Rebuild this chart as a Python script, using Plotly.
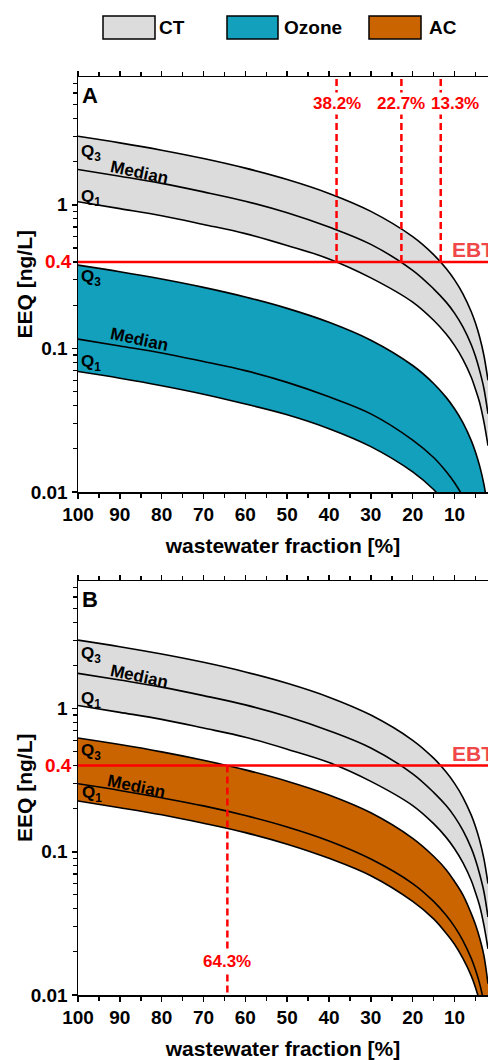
import plotly.graph_objects as go
import math

# ---------------- data ----------------
frac = [100, 90, 80, 70, 60, 50, 40, 30, 20, 15, 12, 10, 8, 6, 5, 4, 3, 2]

ct_q3 = [3.0, 2.7, 2.4, 2.1, 1.8, 1.5, 1.2, 0.9, 0.6, 0.45, 0.36, 0.30, 0.24, 0.18, 0.15, 0.12, 0.09, 0.06]
ct_med = [1.76, 1.58, 1.41, 1.23, 1.06, 0.88, 0.70, 0.53, 0.35, 0.26, 0.21, 0.176, 0.141, 0.106, 0.088, 0.070, 0.053, 0.035]
ct_q1 = [1.05, 0.94, 0.84, 0.73, 0.63, 0.52, 0.42, 0.31, 0.21, 0.157, 0.126, 0.105, 0.084, 0.063, 0.052, 0.042, 0.031, 0.021]

oz_q3 = [0.38, 0.342, 0.304, 0.266, 0.228, 0.19, 0.152, 0.114, 0.076, 0.057, 0.0456, 0.038, 0.0304, 0.0228, 0.019, 0.0152, 0.0114, 0.0076]
oz_med = [0.116, 0.104, 0.093, 0.081, 0.070, 0.058, 0.046, 0.035, 0.023, 0.0174, 0.0139, 0.0116, 0.0093, 0.0070, 0.0058, 0.0046, 0.0035, 0.0023]
oz_q1 = [0.069, 0.062, 0.055, 0.048, 0.041, 0.0345, 0.0276, 0.0207, 0.0138, 0.0104, 0.0083, 0.0069, 0.0055, 0.0041, 0.0035, 0.0028, 0.0021, 0.0014]

ac_q3 = [0.622, 0.56, 0.498, 0.435, 0.373, 0.311, 0.249, 0.187, 0.124, 0.093, 0.075, 0.062, 0.050, 0.037, 0.031, 0.025, 0.019, 0.012]
ac_med = [0.298, 0.268, 0.238, 0.209, 0.179, 0.149, 0.119, 0.089, 0.060, 0.045, 0.036, 0.030, 0.024, 0.018, 0.015, 0.012, 0.0089, 0.006]
ac_q1 = [0.226, 0.203, 0.181, 0.158, 0.136, 0.113, 0.090, 0.068, 0.045, 0.034, 0.027, 0.0226, 0.018, 0.0136, 0.0113, 0.009, 0.0068, 0.0045]

ebt = 0.4
cross_a = [38.2, 22.7, 13.3]
cross_b = [64.3]

x_ticks = [100, 90, 80, 70, 60, 50, 40, 30, 20, 10]
y_ticks = [0.01, 0.1, 1]
y_ticktext = ["0.01", "0.1", "1"]

legend_names = ["CT", "Ozone", "AC"]

# ---------------- style ----------------
FONT = "Liberation Sans, Arial, sans-serif"
C_CT = "#dcdcdc"
C_OZ = "#12a0bc"
C_AC = "#c96400"
RED = "#ff0000"
W, H = 488, 1060
ML, MR, MT, MB = 78, 0, 77, 65

fig = go.Figure()


def band(xa, ya, lo, mid, hi, color):
    common = dict(x=frac, mode="lines", xaxis=xa, yaxis=ya, showlegend=False,
                  hoverinfo="skip", line=dict(color="black", width=1.6, shape="spline"))
    fig.add_trace(go.Scatter(y=lo, **common))
    fig.add_trace(go.Scatter(y=hi, fill="tonexty", fillcolor=color, **common))
    fig.add_trace(go.Scatter(y=mid, **common))


band("x", "y", ct_q1, ct_med, ct_q3, C_CT)
band("x", "y", oz_q1, oz_med, oz_q3, C_OZ)
band("x2", "y2", ct_q1, ct_med, ct_q3, C_CT)
band("x2", "y2", ac_q1, ac_med, ac_q3, C_AC)

# EBT lines
for xa, ya in (("x", "y"), ("x2", "y2")):
    fig.add_trace(go.Scatter(x=[frac[0], frac[-1]], y=[ebt, ebt], mode="lines", xaxis=xa, yaxis=ya,
                             showlegend=False, hoverinfo="skip", line=dict(color=RED, width=2.5)))
# crossing dashed verticals
for c in cross_a:
    fig.add_trace(go.Scatter(x=[c, c], y=[ebt, 20], mode="lines", xaxis="x", yaxis="y",
                             showlegend=False, hoverinfo="skip",
                             line=dict(color=RED, width=2.5, dash="7px,4px")))
for c in cross_b:
    fig.add_trace(go.Scatter(x=[c, c], y=[ebt, 0.001], mode="lines", xaxis="x2", yaxis="y2",
                             showlegend=False, hoverinfo="skip",
                             line=dict(color=RED, width=2.5, dash="7px,4px")))

ymax_log = 0.89

axis_common = dict(showline=True, linecolor="black", linewidth=1.5, ticks="outside",
                   tickcolor="black", tickwidth=1.5, showgrid=False, zeroline=False,
                   tickfont=dict(family=FONT, size=19, color="black", weight="bold"))
xcommon = dict(axis_common, range=[100, 2], tickvals=x_ticks, ticklen=5, mirror="ticks",
               minor=dict(dtick=5, tick0=0, ticks="outside", ticklen=4, tickcolor="black", tickwidth=1.5),
               title=dict(text="wastewater fraction [%]", standoff=14,
                          font=dict(family=FONT, size=21, color="black", weight="bold")))
ycommon = dict(axis_common, type="log", range=[-2, ymax_log], tickvals=y_ticks, ticktext=y_ticktext,
               ticklen=5,
               minor=dict(dtick="D1", ticks="outside", ticklen=4, tickcolor="black", tickwidth=1.2))

plot_h = H - MT - MB
top_dom = [(H - MB - 492) / plot_h, 1]
bot_dom = [0, (H - MB - 581) / plot_h]

fig.update_layout(
    width=W, height=H, margin=dict(l=ML, r=MR, t=MT, b=MB),
    paper_bgcolor="white", plot_bgcolor="white",
    xaxis=dict(xcommon, anchor="y"),
    yaxis=dict(ycommon, domain=top_dom, anchor="x"),
    xaxis2=dict(xcommon, anchor="y2"),
    yaxis2=dict(ycommon, domain=bot_dom, anchor="x2"),
    showlegend=False,
)

ann = []


def txt(text, x, y, xref, yref, size=17, color="black", angle=0, xanchor="center", yanchor="middle",
        bg=None, xshift=0, yshift=0):
    d = dict(text=text, x=x, y=y, xref=xref, yref=yref, showarrow=False, textangle=angle,
             xanchor=xanchor, yanchor=yanchor, xshift=xshift, yshift=yshift,
             font=dict(family=FONT, size=size, color=color, weight="bold"))
    if bg:
        d["bgcolor"] = bg
    ann.append(d)


L = math.log10
# y-axis titles
for yr, xr in (("y domain", "x domain"), ("y2 domain", "x2 domain")):
    txt("EEQ [ng/L]", 0, 0.5, xr, yr, size=21, angle=-90, xshift=-(ML - 24))

# panel letters
txt("A", 0.005, 0.955, "x domain", "y domain", size=22, xanchor="left")
txt("B", 0.005, 0.955, "x2 domain", "y2 domain", size=22, xanchor="left")

# band labels panel A
txt("Q<sub>3</sub>", 97.0, L(2.30), "x", "y")
txt("Median", 85.4, L(1.67), "x", "y", angle=12)
txt("Q<sub>1</sub>", 97.0, L(1.12), "x", "y")
txt("Q<sub>3</sub>", 97.0, L(0.31), "x", "y")
txt("Median", 85.4, L(0.115), "x", "y", angle=12)
txt("Q<sub>1</sub>", 97.0, L(0.079), "x", "y")
# band labels panel B
txt("Q<sub>3</sub>", 97.0, L(2.36), "x2", "y2")
txt("Median", 85.2, L(1.68), "x2", "y2", angle=12)
txt("Q<sub>1</sub>", 97.0, L(1.14), "x2", "y2")
txt("Q<sub>3</sub>", 97.0, L(0.50), "x2", "y2")
txt("Median", 86.0, L(0.284), "x2", "y2", angle=12)
txt("Q<sub>1</sub>", 96.7, L(0.253), "x2", "y2")

# red 0.4 labels on the y axes
for yr in ("y", "y2"):
    xr = "x domain" if yr == "y" else "x2 domain"
    txt("0.4", 0, L(ebt), xr, yr, size=19, color=RED, xanchor="right", xshift=-4)
    txt("EBT", 0.912, L(ebt), xr, yr, size=21, color="#f04848", xanchor="left", yanchor="bottom",
        yshift=-1, xshift=-2)

# crossing labels
shifts = [0, 0, 14]
for c, s in zip(cross_a, shifts):
    txt(f"{c}%", c, 0.937, "x", "y domain", size=17, color=RED, bg="white", xshift=s)
for c in cross_b:
    txt(f"{c}%", c, 0.08, "x2", "y2 domain", size=17, color=RED, bg="white")

# legend (drawn manually)
pw = W - ML - MR


def px(xp):
    return (xp - ML) / pw


def py(yp):
    return (H - MB - yp) / plot_h


shapes = []
legend_boxes = [(103, 155, C_CT, 157), (227, 278, C_OZ, 282), (369, 421, C_AC, 427)]
for (x0, x1, col, tx), name in zip(legend_boxes, legend_names):
    shapes.append(dict(type="rect", xref="paper", yref="paper", x0=px(x0), x1=px(x1), y0=py(39), y1=py(16),
                       fillcolor=col, line=dict(color="black", width=1.5)))
    txt(name, px(tx), py(28), "paper", "paper", size=19, xanchor="left")

fig.update_layout(annotations=ann, shapes=shapes)
fig.write_html("out.html",
               config={"displayModeBar": False, "staticPlot": True},
               post_script="document.body.style.margin='0px';document.body.style.overflow='hidden';")
